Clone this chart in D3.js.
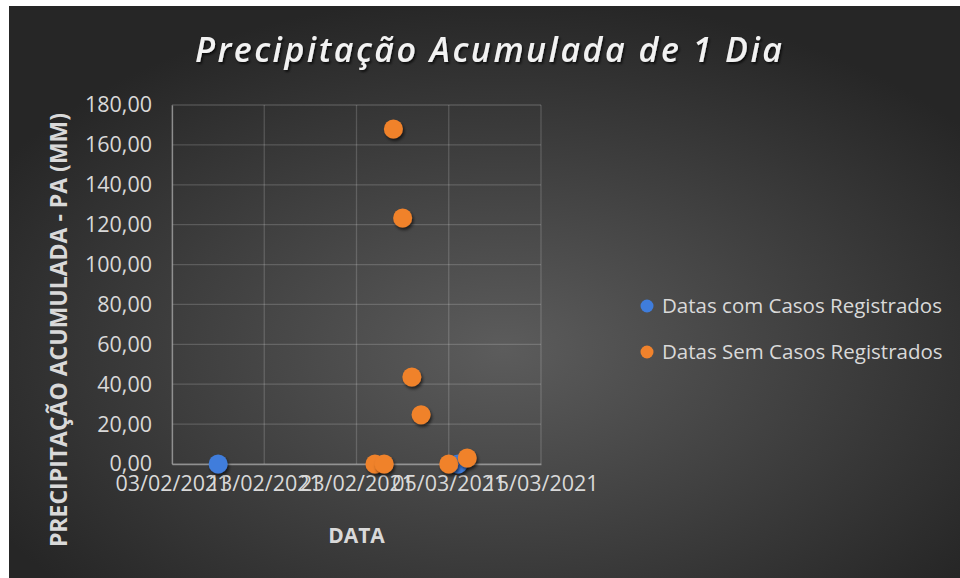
<!DOCTYPE html>
<html>
<head>
<meta charset="utf-8">
<script src="https://cdn.jsdelivr.net/npm/d3@7"></script>
<style>
  body { margin: 0; background: #fff; }
  text { font-family: "Open Sans", "Noto Sans", sans-serif; }
</style>
</head>
<body>
<div class="vis-scatter"></div>
<script>
// series: dates with registered cases
const comCasosDatas = ["08/02/2021", "06/03/2021"];
const comCasosPA = [0, 0];
// series: dates without registered cases
const semCasosDatas = ["25/02/2021", "26/02/2021", "27/02/2021", "28/02/2021", "01/03/2021", "02/03/2021", "05/03/2021", "07/03/2021"];
const semCasosPA = [0, 0, 168, 123.3, 43.6, 24.7, 0, 3];

const xTickLabels = ["03/02/2021", "13/02/2021", "23/02/2021", "05/03/2021", "15/03/2021"];
const yTicks = [0, 20, 40, 60, 80, 100, 120, 140, 160, 180];
const seriesNames = ["Datas com Casos Registrados", "Datas Sem Casos Registrados"];

const W = 960, H = 578;
let margin = { top: 105, right: 419, bottom: 114, left: 172 };
const width = W - margin.left - margin.right;
const height = H - margin.top - margin.bottom;

const parse = d3.timeParse("%d/%m/%Y");
const fmtDate = d3.timeFormat("%d/%m/%Y");
const ptBR = d3.formatLocale({ decimal: ",", thousands: ".", grouping: [3], currency: ["R$", ""] });
const fmtY = ptBR.format(".2f");

const toPoints = (dates, vals, s) => dates.map((d, i) => ({ date: parse(d), pa: vals[i], s: s }));
const seriesData = [toPoints(comCasosDatas, comCasosPA, 0), toPoints(semCasosDatas, semCasosPA, 1)];
const colors = ["#3f7ddc", "#f0822c"];

let svg = d3.select(".vis-scatter").append("svg").attr("width", W).attr("height", H);

let defs = svg.append("defs");
let grad = defs.append("radialGradient").attr("id", "bg")
  .attr("cx", "52%").attr("cy", "60%").attr("r", "62%");
grad.append("stop").attr("offset", "0%").attr("stop-color", "#5c5c5c");
grad.append("stop").attr("offset", "100%").attr("stop-color", "#262626");

let sh = defs.append("filter").attr("id", "shadow").attr("x", "-50%").attr("y", "-50%").attr("width", "200%").attr("height", "200%");
sh.append("feDropShadow").attr("dx", 1.5).attr("dy", 2.5).attr("stdDeviation", 1.8)
  .attr("flood-color", "#000").attr("flood-opacity", 0.6);
let tsh = defs.append("filter").attr("id", "tshadow").attr("x", "-10%").attr("y", "-30%").attr("width", "120%").attr("height", "160%");
tsh.append("feDropShadow").attr("dx", 1.5).attr("dy", 2).attr("stdDeviation", 1.2)
  .attr("flood-color", "#000").attr("flood-opacity", 0.7);

svg.append("rect").attr("x", 9).attr("y", 6).attr("width", W - 9).attr("height", H - 6).attr("fill", "url(#bg)");

let g = svg.append("g").attr("transform", "translate(" + margin.left + "," + margin.top + ")");

let x = d3.scaleTime()
  .domain([parse(xTickLabels[0]), parse(xTickLabels[xTickLabels.length - 1])])
  .range([0, width]);
let y = d3.scaleLinear().domain([0, 180]).range([height, 0]);

// grid
g.append("g").selectAll("line.hg").data(yTicks).join("line")
  .attr("x1", 0).attr("x2", width)
  .attr("y1", (d) => y(d)).attr("y2", (d) => y(d))
  .attr("stroke", "#ffffff").attr("stroke-opacity", 0.17).attr("stroke-width", 1.3);
g.append("g").selectAll("line.vg").data(xTickLabels).join("line")
  .attr("x1", (d) => x(parse(d))).attr("x2", (d) => x(parse(d)))
  .attr("y1", 0).attr("y2", height)
  .attr("stroke", "#ffffff").attr("stroke-opacity", 0.17).attr("stroke-width", 1.3);

// axes
let xAxis = g.append("g").attr("transform", "translate(0," + height + ")")
  .call(d3.axisBottom(x).tickValues(xTickLabels.map(parse)).tickFormat(fmtDate).tickSize(0).tickPadding(14));
let yAxis = g.append("g")
  .call(d3.axisLeft(y).tickValues(yTicks).tickFormat(fmtY).tickSize(0).tickPadding(20));
[xAxis, yAxis].forEach((a) => {
  a.select(".domain").attr("stroke", "#a0a0a0").attr("stroke-opacity", 0.8).attr("stroke-width", 1.3);
  a.selectAll("text").attr("fill", "#d9d9d9").style("font-size", "21.5px").style("font-family", "'Open Sans', sans-serif");
});
xAxis.selectAll("text").attr("dy", "0.6em");

// axis titles
svg.append("text")
  .attr("transform", "translate(67,330) rotate(-90)")
  .attr("text-anchor", "middle")
  .attr("fill", "#d9d9d9").style("font-weight", "bold").style("font-size", "23px")
  .text("PRECIPITAÇÃO ACUMULADA - PA (MM)");
svg.append("text")
  .attr("x", margin.left + width / 2).attr("y", 543)
  .attr("text-anchor", "middle")
  .attr("fill", "#d9d9d9").style("font-weight", "bold").style("font-size", "21px")
  .text("DATA");

// title
svg.append("text")
  .attr("x", 195).attr("y", 62)
  .attr("textLength", 587).attr("lengthAdjust", "spacing")
  .attr("fill", "#f2f2f2").attr("filter", "url(#tshadow)")
  .style("font-weight", "600").style("font-style", "italic").style("font-size", "34px")
  .text("Precipitação Acumulada de 1 Dia");

// points
seriesData.forEach((pts, s) => {
  g.append("g").selectAll("circle").data(pts).join("circle")
    .attr("cx", (d) => x(d.date))
    .attr("cy", (d) => y(d.pa))
    .attr("r", 9.5)
    .attr("fill", colors[s])
    .attr("filter", "url(#shadow)");
});

// legend
let legend = svg.append("g").attr("transform", "translate(647,306)");
seriesNames.forEach((name, i) => {
  let row = legend.append("g").attr("transform", "translate(0," + i * 46 + ")");
  row.append("circle").attr("r", 6.5).attr("fill", colors[i]);
  row.append("text").attr("x", 15).attr("dy", "0.35em")
    .attr("fill", "#d9d9d9").style("font-size", "20.5px")
    .text(name);
});
</script>
</body>
</html>
